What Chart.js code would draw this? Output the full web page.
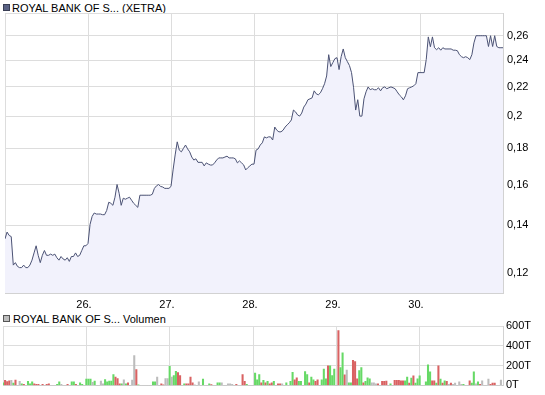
<!DOCTYPE html>
<html>
<head>
<meta charset="utf-8">
<script src="https://cdn.jsdelivr.net/npm/chart.js@4.4.1/dist/chart.umd.min.js"></script>
<style>
    body { margin: 0; background: #fff; }
    #wrap { position: relative; width: 545px; height: 395px; font-family: Arial, "Liberation Sans", sans-serif; font-size: 11px; color: #000; }
    .title { position: absolute; white-space: nowrap; line-height: 13px; }
    .box { position: absolute; width: 5px; height: 5px; }
    canvas { position: absolute; left: 0; }
</style>
</head>
<body>
<div id="wrap">
    <div class="box" style="left:3px;top:4px;background:#5a6284;border:1px solid #3a3f55;"></div>
    <div class="title" style="left:12px;top:2px;">ROYAL BANK OF S... (XETRA)</div>
    <canvas id="priceChart" width="545" height="313" style="top:0;"></canvas>
    <div class="box" style="left:3px;top:315px;background:#bdbdbd;border:1px solid #555;"></div>
    <div class="title" style="left:13px;top:313px;">ROYAL BANK OF S... Volumen</div>
    <canvas id="volumeChart" width="545" height="82" style="top:313px;"></canvas>
</div>
<script>
// days on the x axis, 40 samples per trading day
const dayLabels = ['25.', '26.', '27.', '28.', '29.', '30.'];
const ptsPerDay = 40;

const priceTicks = [0.12, 0.14, 0.16, 0.18, 0.2, 0.22, 0.24, 0.26];
const priceMin = 0.1123;
const priceMax = 0.28;
const volTicks = [0, 200, 400, 600];

const prices = [
    0.134, 0.137, 0.1355, 0.135, 0.123, 0.124, 0.1225, 0.122, 0.122, 0.123,
    0.122, 0.122, 0.123, 0.125, 0.128, 0.131, 0.127, 0.124, 0.127, 0.129,
    0.127, 0.127, 0.1275, 0.127, 0.1275, 0.126, 0.125, 0.1265, 0.1255, 0.125,
    0.126, 0.1245, 0.1265, 0.1265, 0.128, 0.1265, 0.127, 0.129, 0.131, 0.131,
    0.132, 0.1405, 0.1442, 0.1458, 0.1453, 0.1453, 0.1453, 0.145, 0.145, 0.147,
    0.151, 0.1505, 0.1495, 0.1535, 0.16, 0.1555, 0.1495, 0.153, 0.1525, 0.153,
    0.1535, 0.152, 0.1505, 0.1495, 0.1485, 0.1545, 0.1545, 0.1545, 0.1545, 0.1545,
    0.1545, 0.155, 0.158, 0.1593, 0.16, 0.159, 0.1587, 0.158, 0.158, 0.158,
    0.159, 0.1678, 0.1762, 0.1839, 0.179, 0.178, 0.18, 0.182, 0.1797, 0.178,
    0.175, 0.1733, 0.174, 0.172, 0.172, 0.172, 0.17, 0.1717, 0.171, 0.1705,
    0.1705, 0.1717, 0.1733, 0.1745, 0.1745, 0.1745, 0.175, 0.1755, 0.1745, 0.1745,
    0.1745, 0.174, 0.1717, 0.1728, 0.1717, 0.1706, 0.1678, 0.169, 0.17, 0.171,
    0.171, 0.179, 0.1797, 0.182, 0.1833, 0.1869, 0.1863, 0.1869, 0.1869, 0.185,
    0.193, 0.191, 0.19, 0.19, 0.191, 0.193, 0.1944, 0.1957, 0.1975, 0.204,
    0.2028, 0.2008, 0.2, 0.202, 0.206, 0.208, 0.211, 0.2116, 0.2123, 0.2172,
    0.2151, 0.2144, 0.2158, 0.2187, 0.2223, 0.228, 0.2444, 0.2351, 0.2382, 0.2413,
    0.242, 0.2328, 0.2428, 0.249, 0.242, 0.2389, 0.2359, 0.2305, 0.2194, 0.204,
    0.211, 0.2, 0.2, 0.2116, 0.2165, 0.22, 0.218, 0.2187, 0.218, 0.218,
    0.2194, 0.2172, 0.2194, 0.22, 0.2187, 0.2194, 0.22, 0.2194, 0.2187, 0.2165,
    0.2144, 0.213, 0.2109, 0.2137, 0.2187, 0.2194, 0.22, 0.2208, 0.2223, 0.2305,
    0.2305, 0.2305, 0.2305, 0.2405, 0.259, 0.2508, 0.259, 0.25, 0.2484, 0.25,
    0.248, 0.25, 0.249, 0.249, 0.249, 0.249, 0.248, 0.248, 0.2476, 0.2444,
    0.2428, 0.242, 0.2428, 0.242, 0.2405, 0.2444, 0.254, 0.26, 0.26, 0.26,
    0.26, 0.26, 0.26, 0.251, 0.26, 0.251, 0.26, 0.251, 0.25, 0.25,
    0.25
];

// volume in thousands (T)
const volumes = [
    27, 50, 38, 45, 50, 23, 53, 0, 40, 15,
    12, 0, 40, 15, 37, 15, 12, 10, 0, 10,
    0, 10, 15, 0, 0, 0, 10, 37, 12, 0,
    0, 10, 0, 37, 37, 12, 0, 25, 12, 0,
    63, 63, 63, 30, 43, 0, 0, 43, 15, 60,
    35, 43, 43, 110, 83, 70, 15, 15, 57, 15,
    27, 0, 53, 300, 160, 5, 0, 0, 0, 0,
    0, 0, 37, 37, 83, 0, 15, 5, 70, 70,
    193, 83, 100, 143, 130, 100, 0, 15, 15, 15,
    83, 27, 5, 0, 37, 0, 63, 0, 0, 16,
    8, 0, 0, 26, 26, 26, 0, 0, 16, 16,
    10, 0, 12, 0, 0, 109, 40, 10, 0, 0,
    0, 125, 56, 109, 26, 50, 26, 40, 16, 26,
    40, 0, 16, 16, 16, 0, 26, 0, 40, 132,
    56, 76, 40, 40, 0, 139, 109, 26, 83, 56,
    40, 56, 0, 56, 165, 66, 198, 198, 99, 165,
    0, 554, 180, 330, 106, 155, 26, 26, 254, 241,
    66, 149, 180, 26, 40, 76, 66, 26, 26, 16,
    16, 0, 40, 40, 43, 0, 16, 0, 50, 50,
    50, 47, 47, 47, 83, 23, 73, 97, 23, 67,
    97, 0, 0, 37, 207, 137, 47, 47, 23, 197,
    63, 23, 47, 40, 10, 23, 10, 23, 0, 37,
    10, 10, 0, 0, 47, 23, 137, 16, 37, 10,
    47, 0, 0, 63, 10, 23, 23, 0, 0, 53,
    0
];

// 1 = price up, -1 = price down, 0 = unchanged
const volDir = [
    1, -1, -1, -1, 0, 1, -1, 0, 0, 1,
    -1, 0, 1, 1, 1, -1, -1, -1, 0, -1,
    0, -1, -1, 0, 0, 0, 1, 1, 0, 0,
    0, -1, 0, 1, 1, -1, 0, 1, 1, 0,
    1, 1, 1, 0, 1, 0, 0, 0, 0, 1,
    1, 1, 1, 1, -1, -1, -1, 1, 0, 1,
    -1, 0, 0, 0, -1, 1, 0, 0, 0, 0,
    0, 0, 1, 1, 0, 0, -1, -1, 0, 0,
    1, 0, 1, 1, -1, -1, 0, 1, -1, -1,
    -1, -1, 0, 0, 0, 0, 1, 0, 0, 1,
    -1, 0, 0, 1, 1, 0, 0, 0, 0, 0,
    0, 0, -1, 0, 0, -1, -1, 1, 0, 0,
    0, 1, 1, 1, -1, 1, -1, 1, -1, -1,
    1, 0, -1, -1, 0, 0, 1, 0, 1, 1,
    -1, -1, 1, 1, 0, 1, 1, -1, 1, 1,
    -1, -1, 0, 1, 1, 1, -1, 1, 1, 1,
    0, -1, 1, 1, -1, 0, 1, 1, -1, -1,
    -1, 1, 1, -1, 1, 1, 1, 0, 0, 0,
    -1, 0, -1, -1, -1, 0, 1, 0, -1, -1,
    -1, -1, -1, 1, 1, -1, 1, -1, 1, 1,
    1, 0, 0, 1, 1, 1, -1, -1, 1, -1,
    1, -1, 1, -1, 0, -1, 0, 0, 0, 0,
    0, 1, 0, 0, -1, 1, 1, 0, 1, -1,
    0, 0, 0, 0, -1, -1, -1, 0, 0, 0,
    0
];

const gridColor = '#dddddd';
const edgeColor = '#d2d2d2';
const lastIndex = prices.length - 1;

Chart.defaults.font.family = 'Arial, "Liberation Sans", sans-serif';
Chart.defaults.font.size = 11;
Chart.defaults.color = '#000';

function xAxis(showLabels, height) {
    return {
        type: 'linear',
        min: 0,
        max: lastIndex,
        offset: false,
        afterBuildTicks: scale => {
            scale.ticks = dayLabels.map((d, k) => ({ value: k * ptsPerDay })).concat([{ value: lastIndex }]);
        },
        grid: { color: gridColor, drawTicks: false, offset: false },
        border: { color: edgeColor },
        ticks: {
            display: showLabels,
            padding: 5,
            labelOffset: -4,
            maxRotation: 0,
            autoSkip: false,
            callback: v => (v > 0 && v < lastIndex && v % ptsPerDay === 0) ? dayLabels[v / ptsPerDay] : ''
        },
        afterFit: scale => { scale.height = height; }
    };
}

function createPriceChart() {
    const ctx = document.getElementById('priceChart').getContext('2d');
    new Chart(ctx, {
        type: 'line',
        data: {
            datasets: [{
                data: prices.map((v, i) => ({ x: i, y: v })),
                borderColor: '#4b5274',
                borderWidth: 1,
                backgroundColor: '#f2f2fc',
                fill: 'start',
                pointRadius: 0,
                tension: 0
            }]
        },
        options: {
            responsive: false,
            animation: false,
            layout: { padding: { left: 3, top: 13, right: 0, bottom: 0 } },
            plugins: { legend: { display: false }, tooltip: { enabled: false } },
            scales: {
                x: xAxis(true, 20),
                y: {
                    type: 'logarithmic',
                    position: 'right',
                    min: priceMin,
                    max: priceMax,
                    afterBuildTicks: scale => {
                        scale.ticks = [priceMin].concat(priceTicks, [priceMax]).map(v => ({ value: v }));
                    },
                    grid: { color: gridColor, drawTicks: false },
                    border: { color: edgeColor },
                    ticks: {
                        padding: 4,
                        callback: v => priceTicks.includes(v) ? String(v).replace('.', ',') : ''
                    },
                    afterFit: scale => { scale.width = 42; }
                }
            }
        }
    });
}

function createVolumeChart() {
    const ctx = document.getElementById('volumeChart').getContext('2d');
    new Chart(ctx, {
        type: 'bar',
        data: {
            datasets: [{
                data: volumes.map((v, i) => ({ x: i, y: v })),
                backgroundColor: volDir.map(d => d > 0 ? '#66d966' : d < 0 ? '#d96262' : '#bcbcbc'),
                barThickness: 1.4,
                borderWidth: 0
            }]
        },
        options: {
            responsive: false,
            animation: false,
            layout: { padding: { left: 3, top: 13, right: 0, bottom: 0 } },
            plugins: { legend: { display: false }, tooltip: { enabled: false } },
            scales: {
                x: xAxis(false, 9),
                y: {
                    type: 'linear',
                    position: 'right',
                    min: 0,
                    max: 600,
                    afterBuildTicks: scale => {
                        scale.ticks = volTicks.map(v => ({ value: v }));
                    },
                    grid: { color: gridColor, drawTicks: false },
                    border: { color: edgeColor },
                    ticks: { padding: 3, callback: v => v + 'T' },
                    afterFit: scale => { scale.width = 42; }
                }
            }
        }
    });
}

createPriceChart();
createVolumeChart();
</script>
</body>
</html>
